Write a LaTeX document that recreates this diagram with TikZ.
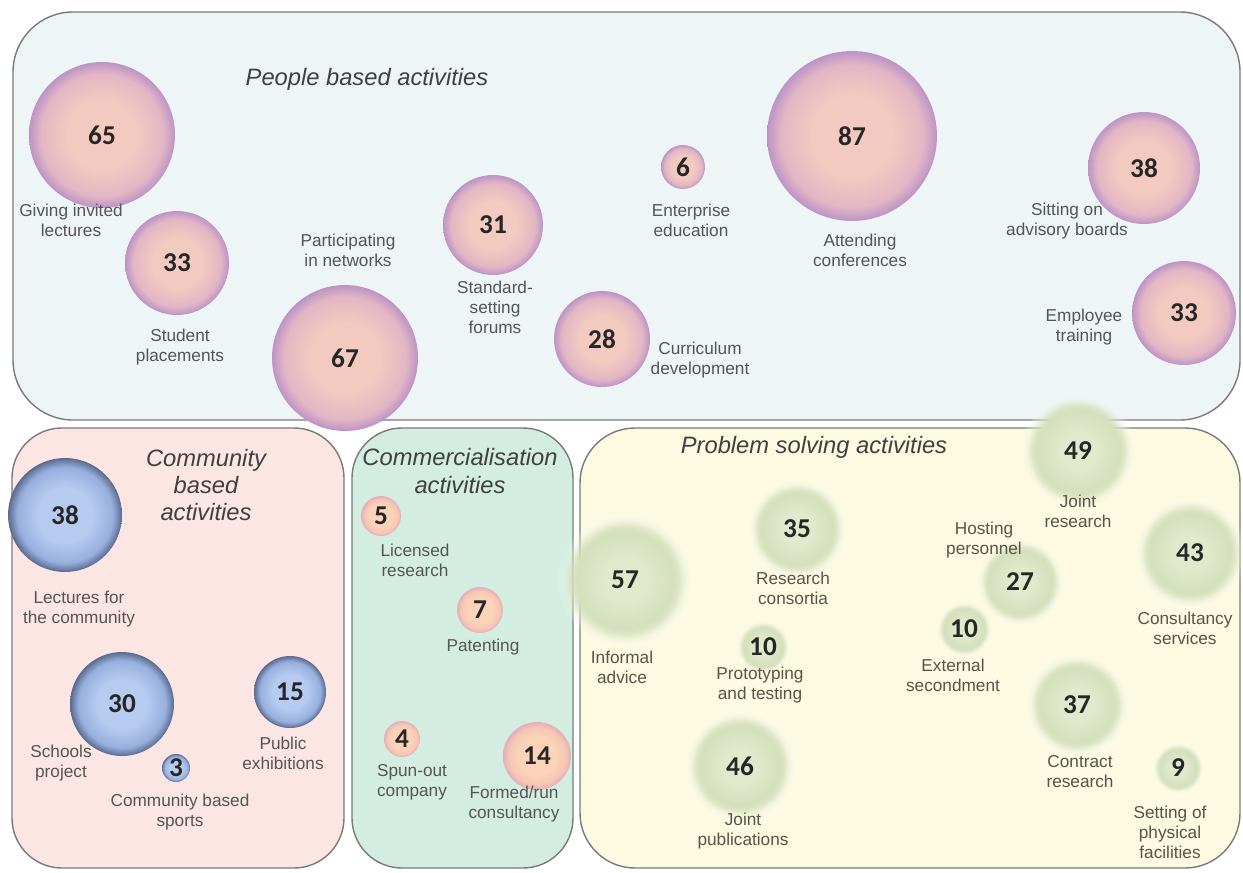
\documentclass[tikz,border=0pt]{standalone}
\usepackage{fontspec}
\usepackage{tikz}
\usetikzlibrary{positioning,fadings}

\newfontfamily\lblfont{Liberation Sans}
\newfontfamily\numfont{Carlito}

\definecolor{peoplebg}{HTML}{EEF5F7}
\definecolor{commbg}{HTML}{FBE6E4}
\definecolor{comrbg}{HTML}{D3EEE0}
\definecolor{probbg}{HTML}{FCFBE1}
\definecolor{framegray}{HTML}{7A7A7A}
\definecolor{lblgray}{HTML}{555555}
\definecolor{lblbrown}{HTML}{5C5248}
\definecolor{pinkC}{HTML}{F2CAC0}
\definecolor{pinkM}{HTML}{E2B6C4}
\definecolor{pinkE}{HTML}{BC93C6}
\definecolor{blueC}{HTML}{B5CBF0}
\definecolor{blueM}{HTML}{97AFDD}
\definecolor{blueE}{HTML}{5A6A8E}
\definecolor{peachC}{HTML}{FBD3B8}
\definecolor{peachM}{HTML}{F5C6B4}
\definecolor{peachE}{HTML}{E4AEB8}
\definecolor{greenL}{HTML}{E0E9CB}
\definecolor{greenC}{HTML}{D5E0BD}

\pgfdeclareradialshading{pinkball}{\pgfpointorigin}{color(0bp)=(pinkC); color(12bp)=(pinkC); color(21bp)=(pinkM); color(25bp)=(pinkE); color(50bp)=(pinkE)}
\pgfdeclareradialshading{blueball}{\pgfpointorigin}{color(0bp)=(blueC); color(12bp)=(blueC); color(21bp)=(blueM); color(25bp)=(blueE); color(50bp)=(blueE)}
\pgfdeclareradialshading{peachball}{\pgfpointorigin}{color(0bp)=(peachC); color(14bp)=(peachC); color(21bp)=(peachM); color(25bp)=(peachE); color(50bp)=(peachE)}
\pgfdeclareradialshading{greenball}{\pgfpointorigin}{color(0bp)=(greenL); color(8bp)=(greenL); color(17bp)=(greenC); color(20bp)=(greenC); color(25bp)=(white); color(50bp)=(white)}
\pgfdeclareradialshading{softdiscshade}{\pgfpointorigin}{color(0bp)=(white); color(18bp)=(white); color(25bp)=(black); color(50bp)=(black)}
\pgfdeclarefading{softdisc}{\pgfuseshading{softdiscshade}}

\begin{document}
\begin{tikzpicture}[x=0.02cm, y=-0.02cm,
  panel/.style={draw=framegray, line width=0.8pt, rounded corners=1cm},
  bub/.style={circle, inner sep=0pt, text=black!85, font=\numfont\bfseries\fontsize{15.5}{16}\selectfont},
  pinkbub/.style={bub, shade, shading=pinkball},
  bluebub/.style={bub, shade, shading=blueball},
  peachbub/.style={bub, shade, shading=peachball},
  greenbub/.style={bub, shade, shading=greenball, path fading=softdisc},
  lbl/.style={align=center, text=lblgray, font=\lblfont\fontsize{9.8}{11.4}\selectfont},
  lblp/.style={lbl, text=lblbrown},
  ttl/.style={align=center, text=black!75, font=\lblfont\itshape\fontsize{13.5}{15.4}\selectfont}]

\useasboundingbox (0,0) rectangle (1243,872);

% panels
\draw[panel, fill=peoplebg, rounded corners=1.2cm] (13,12) rectangle (1240,420);
\draw[panel, fill=commbg] (12,428) rectangle (344,868);
\draw[panel, fill=comrbg] (352,428) rectangle (573,868);
\draw[panel, fill=probbg, rounded corners=1.1cm] (580,428) rectangle (1240,868);

\node[ttl] (t-people) at (367,79) {People based activities};
\node[ttl] (t-comm) at (206,485) {Community\\based\\activities};
\node[ttl] (t-comr) at (460,471) {Commercialisation\\activities};
\node[ttl] (t-prob) at (814,447) {Problem solving activities};

% people based
\node[pinkbub, minimum size=2.92cm] (invited) at (102,135) {65};
\node[pinkbub, minimum size=2.08cm] (student) at (177,263) {33};
\node[pinkbub, minimum size=2.92cm] (networks) at (345,358) {67};
\node[pinkbub, minimum size=2.0cm] (standard) at (493,225) {31};
\node[pinkbub, minimum size=0.88cm] (enterprise) at (683,167) {6};
\node[pinkbub, minimum size=1.92cm] (curriculum) at (602,339) {28};
\node[pinkbub, minimum size=3.4cm] (conferences) at (852,136) {87};
\node[pinkbub, minimum size=2.24cm] (advisory) at (1144,168) {38};
\node[pinkbub, minimum size=2.08cm] (employee) at (1184,313) {33};

\node[lbl] (l-invited) at (71,220) {Giving invited\\lectures};
\node[lbl] (l-student) at (180,347) {Student\\placements};
\node[lbl] (l-networks) at (348,250) {Participating\\in networks};
\node[lbl] (l-standard) at (495,307) {Standard-\\setting\\forums};
\node[lbl] (l-enterprise) at (691,220) {Enterprise\\education};
\node[lbl] (l-curriculum) at (700,360) {Curriculum\\development};
\node[lbl] (l-conferences) at (860,250) {Attending\\conferences};
\node[lbl] (l-advisory) at (1067,221) {Sitting on\\advisory boards};
\node[lbl] (l-employee) at (1084,327) {Employee\\training};

% community based
\node[bluebub, minimum size=2.28cm] (lectures) at (65,515) {38};
\node[bluebub, minimum size=2.08cm] (schools) at (122,704) {30};
\node[bluebub, minimum size=1.44cm] (exhib) at (290,692) {15};
\node[bluebub, minimum size=0.56cm] (sports) at (176,768) {3};

\node[lbl] (l-lectures) at (79,609) {Lectures for\\the community};
\node[lbl] (l-schools) at (61,763) {Schools\\project};
\node[lbl] (l-exhib) at (283,753) {Public\\exhibitions};
\node[lbl] (l-sports) at (180,812) {Community based\\sports};

% commercialisation
\node[peachbub, minimum size=0.8cm] (licensed) at (381,516) {5};
\node[peachbub, minimum size=0.92cm] (patent) at (480,610) {7};
\node[peachbub, minimum size=0.72cm] (spunout) at (402,739) {4};
\node[peachbub, minimum size=1.36cm] (formed) at (537,756) {14};

\node[lbl] (l-licensed) at (415,560) {Licensed\\research};
\node[lbl] (l-patent) at (483,647) {Patenting};
\node[lbl] (l-spunout) at (412,782) {Spun-out\\company};
\node[lbl] (l-formed) at (514,804) {Formed/run\\consultancy};

% problem solving
\node[greenbub, minimum size=2.72cm] (informal) at (625,580) {57};
\node[greenbub, minimum size=2.0cm] (consortia) at (797,529) {35};
\node[greenbub, minimum size=1.08cm] (proto) at (763,647) {10};
\node[greenbub, minimum size=2.24cm] (jointpub) at (740,766) {46};
\node[greenbub, minimum size=2.32cm] (jointres) at (1078,451) {49};
\node[greenbub, minimum size=1.76cm] (hosting) at (1020,582) {27};
\node[greenbub, minimum size=1.12cm] (second) at (964,629) {10};
\node[greenbub, minimum size=2.24cm] (consserv) at (1190,553) {43};
\node[greenbub, minimum size=2.08cm] (contract) at (1077,705) {37};
\node[greenbub, minimum size=1.04cm] (facil) at (1178,768) {9};

\node[lblp] (l-informal) at (622,667) {Informal\\advice};
\node[lblp] (l-consortia) at (793,588) {Research\\consortia};
\node[lblp] (l-proto) at (760,685) {Prototyping\\and testing};
\node[lblp] (l-jointpub) at (743,831) {Joint\\publications};
\node[lblp] (l-jointres) at (1078,511) {Joint\\research};
\node[lblp] (l-hosting) at (984,540) {Hosting\\personnel};
\node[lblp] (l-second) at (953,675) {External\\secondment};
\node[lblp] (l-consserv) at (1185,628) {Consultancy\\services};
\node[lblp] (l-contract) at (1080,772) {Contract\\research};
\node[lblp] (l-facil) at (1170,832) {Setting of\\physical\\facilities};
\end{tikzpicture}
\end{document}
